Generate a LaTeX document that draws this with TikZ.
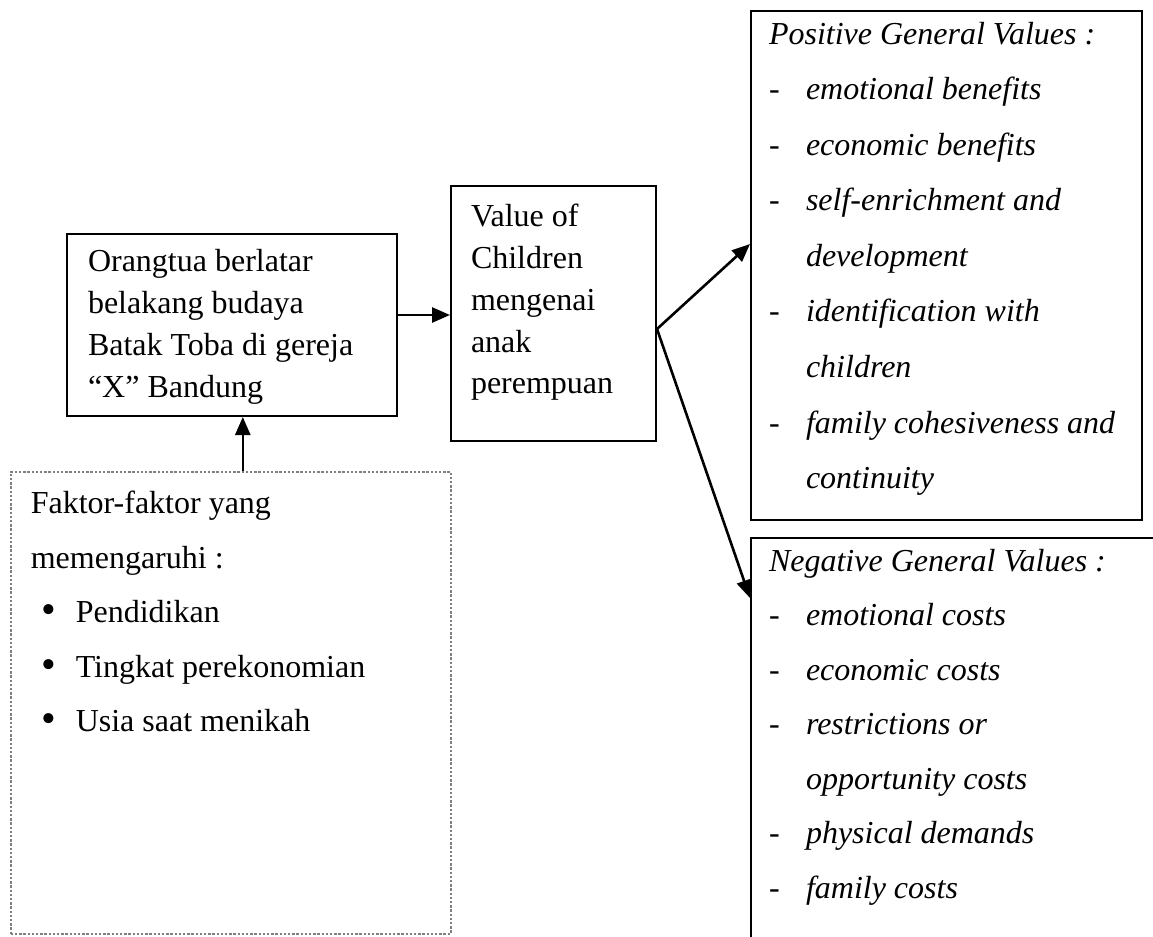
\documentclass[tikz,border=0pt]{standalone}
\usepackage{fontspec}
\setmainfont{Liberation Serif}
\usetikzlibrary{arrows.meta}
\newcommand{\valdash}{\makebox[18.5pt][l]{-}}
\newcommand{\valindent}{\hspace*{18.5pt}}
\newcommand{\faktoritem}{\hspace*{5.5pt}\makebox[17pt][l]{\raisebox{-0.6pt}{\fontsize{21}{21}\selectfont\textbullet}}}
\begin{document}
\begin{tikzpicture}[x=0.5pt,y=-0.5pt,
	box/.style={draw, line width=1pt, anchor=north west, inner ysep=0pt, align=flush left, font=\fontsize{16}{21}\selectfont},
	dotbox/.style={draw=gray, line width=0.8pt, dash pattern=on 1.2pt off 0.9pt, anchor=north west, inner ysep=0pt, align=flush left},
	arr/.style={line width=1.3pt, -{Triangle[length=9pt,width=7.5pt]}}]
\useasboundingbox (0,0) rectangle (1153,937);
\clip (0,0) rectangle (1153,937);
\node[box, inner xsep=10.5pt, text width=144pt, text height=18.5pt, text depth=72.5pt] (ortu) at (66,233)
	{Orangtua berlatar\\belakang budaya\\Batak Toba di gereja\\“X” Bandung};
\node[box, inner xsep=10pt, text width=82.5pt, text height=20pt, text depth=107.5pt] (voc) at (450,185)
	{Value of\\Children\\mengenai\\anak\\perempuan};
\node[dotbox, inner xsep=10pt, text width=200pt, text height=21pt, text depth=210pt, font=\fontsize{16}{27.2}\selectfont] (faktor) at (10,471)
	{Faktor-faktor yang\\memengaruhi :\\
	\faktoritem Pendidikan\\
	\faktoritem Tingkat perekonomian\\
	\faktoritem Usia saat menikah};
\node[box, inner xsep=9pt, text width=177.5pt, text height=16.5pt, text depth=238pt, font=\fontsize{16}{27.8}\selectfont] (pos) at (750,10)
	{\textit{Positive General Values :}\\
	\valdash\textit{emotional benefits}\\
	\valdash\textit{economic benefits}\\
	\valdash\textit{self-enrichment and}\\
	\valindent\textit{development}\\
	\valdash\textit{identification with}\\
	\valindent\textit{children}\\
	\mbox{\valdash\textit{family cohesiveness and}}\\
	\valindent\textit{continuity}};
\node[box, inner xsep=9pt, text width=200pt, text height=16.5pt, text depth=250pt, font=\fontsize{16}{27.25}\selectfont] (neg) at (750,537)
	{\textit{Negative General Values :}\\
	\valdash\textit{emotional costs}\\
	\valdash\textit{economic costs}\\
	\valdash\textit{restrictions or}\\
	\valindent\textit{opportunity costs}\\
	\valdash\textit{physical demands}\\
	\valdash\textit{family costs}};
\draw[arr] ([yshift=5pt]ortu.east) -- ([yshift=5pt]ortu.east -| voc.west);
\draw[arr] ([xshift=6pt]faktor.north) -- ([xshift=6pt]faktor.north |- ortu.south);
\coordinate (fork) at ([yshift=-7.75pt]voc.east);
\draw[arr] (fork) -- ([yshift=-117pt]pos.north west);
\draw[arr] (fork) -- ([yshift=-30.5pt]neg.north west);
\end{tikzpicture}
\end{document}
